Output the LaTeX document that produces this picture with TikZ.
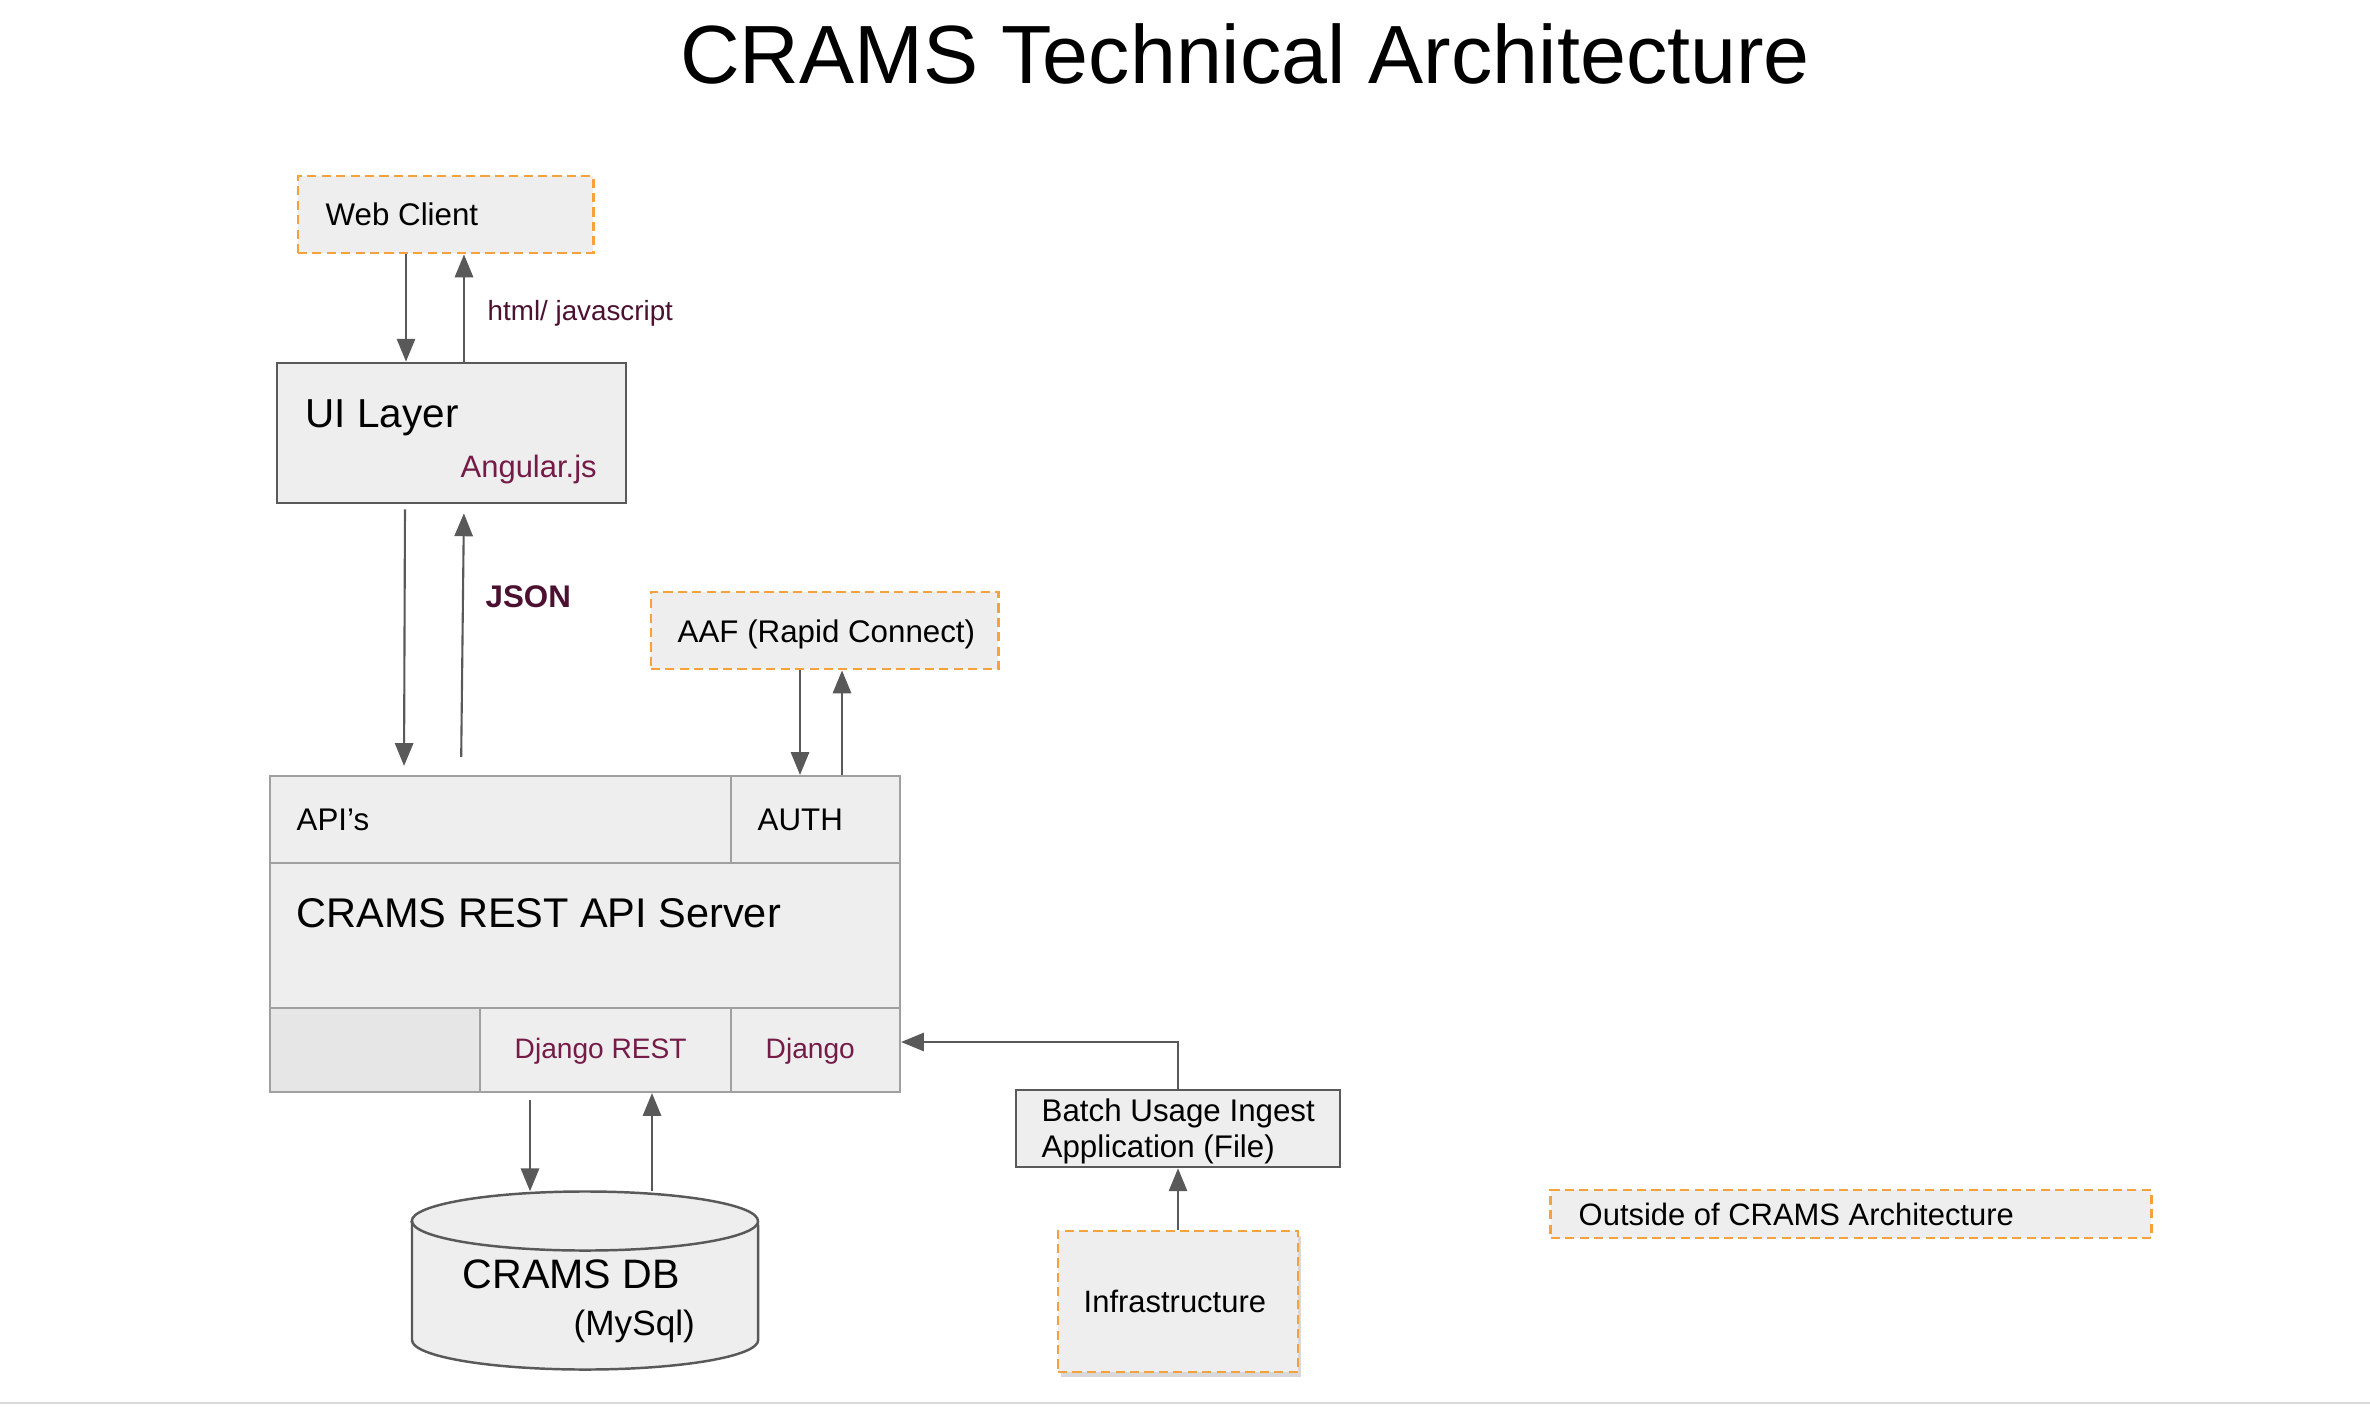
\documentclass[tikz,border=0pt]{standalone}
\usepackage{fontspec}
\setmainfont{Liberation Sans}
\usetikzlibrary{arrows.meta,shadows}
\definecolor{boxfill}{HTML}{EEEEEE}
\definecolor{cellgray}{HTML}{E6E6E6}
\definecolor{orng}{HTML}{F6A23C}
\definecolor{darkln}{HTML}{595959}
\definecolor{lightln}{HTML}{A0A0A0}
\definecolor{mag}{HTML}{741B47}
\definecolor{dmag}{HTML}{4C1130}
\definecolor{pageline}{HTML}{D9D9D9}
\begin{document}
\begin{tikzpicture}[x=0.01cm,y=-0.01cm,
  arr/.style={draw=darkln,line width=0.6pt,-{Triangle[length=6.5pt,width=5.2pt]}},
  outbox/.style={rectangle,draw=orng,dash pattern=on 2.6pt off 1.5pt,line width=0.8pt,fill=boxfill,inner sep=0},
  darkbox/.style={rectangle,draw=darkln,line width=0.75pt,fill=boxfill,inner sep=0},
  cell/.style={rectangle,draw=lightln,line width=0.6pt,fill=boxfill,inner sep=0},
  txt/.style={anchor=base west,inner sep=0,font=\fontsize{8.9}{11}\selectfont},
  bigtxt/.style={anchor=base west,inner sep=0,font=\fontsize{11.5}{14}\selectfont},
]
\fill[white] (0,0) rectangle (2370,1406);
\useasboundingbox (0,0) rectangle (2370,1406);
\draw[pageline,line width=0.8pt] (0,1403) -- (2370,1403);

% title
\node[anchor=base,inner sep=0,font=\fontsize{23.5}{28}\selectfont] (title) at (1245,83) {CRAMS Technical Architecture};

% boxes
\node[outbox,minimum width=2.95cm,minimum height=0.77cm] (web) at (445.5,214.5) {};
\node[darkbox,minimum width=3.49cm,minimum height=1.40cm] (ui) at (451.5,433) {};
\node[outbox,minimum width=3.47cm,minimum height=0.77cm] (aaf) at (824.5,630.5) {};

\node[cell,minimum width=4.61cm,minimum height=0.87cm] (apis) at (500.5,819.5) {};
\node[cell,minimum width=1.69cm,minimum height=0.87cm] (auth) at (815.5,819.5) {};
\node[cell,minimum width=6.30cm,minimum height=1.45cm] (server) at (585,935.5) {};
\node[cell,fill=cellgray,minimum width=2.10cm,minimum height=0.84cm] (blank) at (375,1050) {};
\node[cell,minimum width=2.51cm,minimum height=0.84cm] (djrest) at (605.5,1050) {};
\node[cell,minimum width=1.69cm,minimum height=0.84cm] (django) at (815.5,1050) {};

\node[darkbox,minimum width=3.24cm,minimum height=0.77cm] (batch) at (1178,1128.5) {};
\node[outbox,minimum width=2.40cm,minimum height=1.41cm,
      drop shadow={opacity=0.3,shadow xshift=0.03cm,shadow yshift=-0.05cm}] (infra) at (1178,1301.5) {};
\node[outbox,minimum width=6.00cm,minimum height=0.48cm] (outside) at (1851,1214) {};

% database cylinder
\node[inner sep=0,minimum width=3.46cm,minimum height=1.77cm] (db) at (585,1280.5) {};
\path[fill=boxfill,draw=darkln,line width=0.7pt] (412,1221) -- (412,1340)
  arc[start angle=180,end angle=360,x radius=1.73cm,y radius=0.295cm] -- (758,1221)
  arc[start angle=0,end angle=180,x radius=1.73cm,y radius=0.295cm] -- cycle;
\draw[darkln,line width=0.7pt] (412,1221) arc[start angle=180,end angle=360,x radius=1.73cm,y radius=0.295cm];

% texts
\node[txt] (tweb) at (325,225) {Web Client};
\node[txt,text=dmag,font=\fontsize{7.9}{10}\selectfont] (thtml) at (487,320) {html/ javascript};
\node[bigtxt] (tui) at (305,427) {UI Layer};
\node[txt,text=mag,font=\fontsize{8.8}{11}\selectfont] (tang) at (460,477) {Angular.js};
\node[txt,text=dmag,font=\fontsize{8.9}{11}\selectfont\bfseries] (tjson) at (485,607) {JSON};
\node[txt] (taaf) at (677,642) {AAF (Rapid Connect)};
\node[txt] (tapis) at (296,830) {API’s};
\node[txt] (tauth) at (757,830) {AUTH};
\node[bigtxt,font=\fontsize{11.8}{14}\selectfont] (tserver) at (296,927) {CRAMS REST API Server};
\node[txt,text=mag,font=\fontsize{8}{10}\selectfont] (tdjrest) at (514,1058) {Django REST};
\node[txt,text=mag,font=\fontsize{8}{10}\selectfont] (tdjango) at (765,1058) {Django};
\node[bigtxt,font=\fontsize{11.7}{14}\selectfont] (tdb) at (462,1288) {CRAMS DB};
\node[txt,font=\fontsize{10}{12}\selectfont] (tmysql) at (573,1335) {(MySql)};
\node[txt] (tbatch1) at (1041,1121) {Batch Usage Ingest};
\node[txt] (tbatch2) at (1041,1157) {Application (File)};
\node[txt,font=\fontsize{8.8}{11}\selectfont] (tinfra) at (1083,1312) {Infrastructure};
\node[txt,font=\fontsize{8.8}{11}\selectfont] (tout) at (1578,1225) {Outside of CRAMS Architecture};

% connectors
\draw[arr] (406,0 |- web.south) -- (406,0 |- ui.north);
\draw[arr] (464,0 |- ui.north) -- (464,0 |- web.south);
\draw[arr,shorten <=0.05cm,shorten >=0.09cm] (405,0 |- ui.south) -- (404,0 |- apis.north);
\draw[arr,shorten <=0.18cm,shorten >=0.09cm] (461,0 |- apis.north) -- (464,0 |- ui.south);
\draw[arr] (800,0 |- aaf.south) -- (800,0 |- auth.north);
\draw[arr] (842,0 |- auth.north) -- (842,0 |- aaf.south);
\draw[arr,shorten <=0.07cm] (530,0 |- blank.south) -- (530,0 |- db.north);
\draw[arr] (652,0 |- db.north) -- (652,0 |- djrest.south);
\draw[arr] (batch.north) |- ([yshift=0.08cm]django.east);
\draw[arr] (infra.north) -- (batch.south);
\end{tikzpicture}
\end{document}
